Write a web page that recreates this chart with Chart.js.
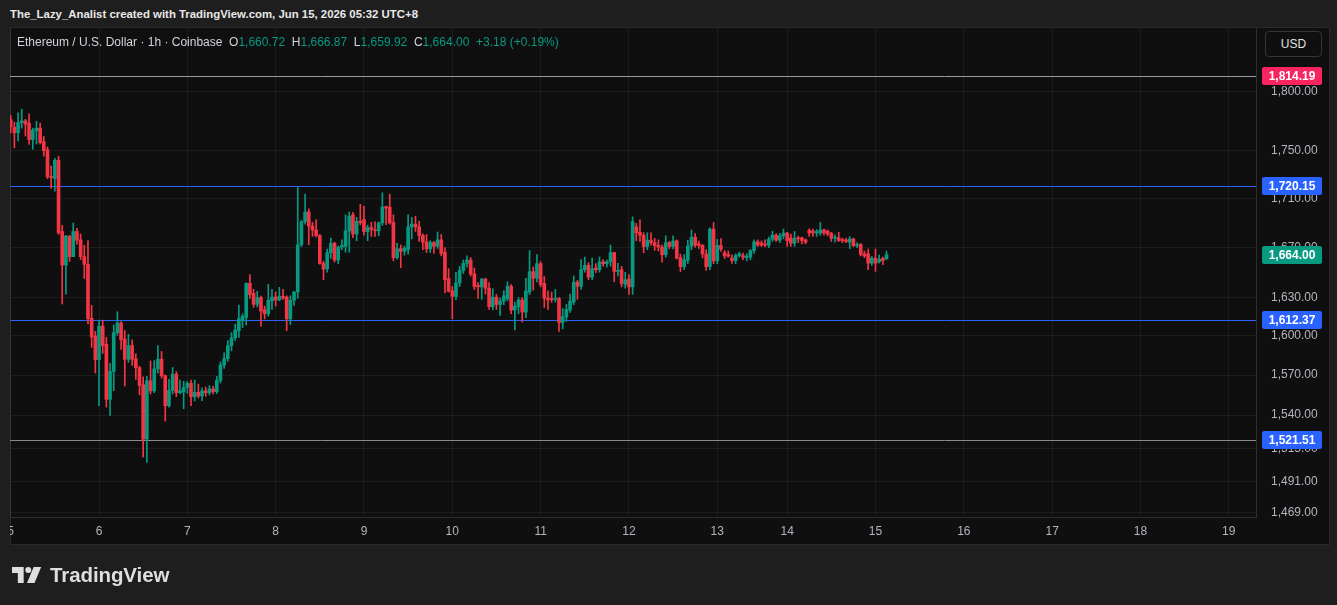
<!DOCTYPE html>
<html><head><meta charset="utf-8">
<script src="https://cdn.jsdelivr.net/npm/chart.js@4.4.1/dist/chart.umd.min.js"></script>
<style>
html,body{margin:0;padding:0;width:1337px;height:605px;background:#1e1e1e;overflow:hidden;font-family:"Liberation Sans",Arial,sans-serif}
#hdr{position:absolute;left:10px;top:8px;font-size:11.4px;color:#e8e8e8;font-weight:700;white-space:nowrap}
#pane{position:absolute;left:10px;top:27px;width:1320px;height:518px;background:#0f0f0f;box-sizing:border-box;border:1px solid #2a2a2a}
#cv{position:absolute;left:10px;top:0;z-index:1}
#legend{position:absolute;left:17px;top:35px;font-size:12px;color:#d1d4dc;white-space:nowrap;z-index:2}
#legend .v{color:#089981}
#usd{position:absolute;left:1265px;top:31px;width:57px;height:26px;border:1px solid #363636;border-radius:4px;color:#e0e0e0;font-size:12px;text-align:center;line-height:24px;box-sizing:border-box;z-index:2;background:#0f0f0f}
#logo{position:absolute;left:12px;top:563px;display:flex;align-items:center;z-index:2}
#logo span{font-size:20.5px;font-weight:700;color:#dedede;margin-left:8px;letter-spacing:-0.1px}
</style>
</head><body>
<div id="hdr">The_Lazy_Analist created with TradingView.com, Jun 15, 2026 05:32 UTC+8</div>
<div id="pane"></div>
<canvas id="cv" width="1327" height="605"></canvas>
<div id="legend">Ethereum / U.S. Dollar · 1h · Coinbase&nbsp; O<span class="v">1,660.72</span>&nbsp; H<span class="v">1,666.87</span>&nbsp; L<span class="v">1,659.92</span>&nbsp; C<span class="v">1,664.00</span>&nbsp; <span class="v">+3.18 (+0.19%)</span></div>
<div id="usd">USD</div>
<div id="logo"><svg width="30" height="16" viewBox="0 0 36 19"><path d="M0 0H14V19H7V7H0Z" fill="#dedede"/><circle cx="19.5" cy="3.6" r="3.6" fill="#dedede"/><path d="M26 0H35L27 19H18Z" fill="#dedede"/></svg><span>TradingView</span></div>
<script>
// hourly candles, Jun 5 00:00 onward (bar index = hour)
const opens = [1776.1,1769.5,1764.9,1773.5,1775.0,1773.1,1759.1,1766.6,1768.8,1757.4,1750.5,1728.0,1726.3,1741.6,1682.7,1655.6,1678.7,1662.4,1682.7,1675.9,1662.4,1656.3,1613.6,1600.0,1581.7,1607.5,1593.5,1551.7,1572.7,1602.5,1610.0,1597.5,1582.0,1592.5,1582.3,1575.6,1562.7,1522.1,1565.7,1558.1,1574.7,1582.1,1569.7,1546.9,1558.4,1570.7,1556.7,1557.2,1560.7,1563.7,1553.7,1557.0,1554.2,1558.1,1556.7,1559.5,1557.5,1566.0,1577.7,1582.5,1592.5,1598.5,1603.9,1611.9,1614.3,1641.1,1633.2,1624.6,1630.0,1620.3,1617.2,1627.3,1630.3,1628.0,1630.8,1630.3,1613.2,1627.7,1634.3,1672.0,1690.7,1698.7,1687.2,1683.9,1679.5,1657.0,1652.5,1665.5,1673.2,1659.7,1670.0,1670.7,1683.1,1696.3,1680.7,1691.0,1692.5,1682.7,1686.0,1684.0,1683.2,1689.7,1703.0,1702.7,1690.1,1661.6,1668.8,1666.7,1668.1,1686.5,1688.7,1686.5,1679.5,1674.3,1668.7,1673.8,1670.8,1675.9,1666.0,1644.8,1635.3,1630.8,1641.4,1651.4,1657.0,1659.7,1648.6,1639.5,1638.3,1644.5,1637.3,1622.7,1630.2,1624.5,1627.1,1629.0,1638.9,1620.1,1622.7,1628.0,1618.5,1634.3,1650.4,1645.1,1656.8,1641.1,1629.5,1628.8,1628.3,1629.1,1610.4,1614.6,1620.1,1626.3,1642.0,1638.8,1652.0,1655.5,1646.0,1653.3,1652.0,1658.2,1656.8,1658.2,1665.7,1650.6,1652.0,1640.3,1644.5,1638.3,1686.5,1682.1,1679.7,1670.5,1675.7,1673.7,1671.5,1670.1,1664.0,1673.7,1670.7,1675.1,1661.6,1654.4,1659.5,1671.0,1678.1,1672.7,1671.7,1664.5,1654.4,1684.7,1659.0,1671.4,1665.6,1664.0,1661.3,1659.3,1663.3,1663.3,1661.6,1662.0,1667.3,1674.3,1673.3,1672.5,1671.7,1676.5,1679.7,1675.7,1679.2,1681.5,1677.4,1673.3,1677.6,1677.6,1675.9,1683.7,1683.2,1681.7,1681.5,1684.0,1682.9,1681.2,1677.3,1677.7,1675.9,1675.9,1674.1,1676.7,1671.2,1672.2,1664.6,1664.7,1657.2,1661.2,1658.2,1661.0,1660.72];
const highs = [1779.7,1774.1,1781.9,1785.1,1776.4,1781.1,1768.8,1774.7,1773.1,1761.7,1752.9,1736.8,1743.3,1745.1,1687.7,1679.7,1679.7,1689.7,1685.3,1680.7,1671.5,1675.3,1623.7,1603.5,1612.2,1612.2,1598.8,1578.7,1608.5,1618.8,1611.0,1604.1,1601.3,1597.0,1586.2,1576.7,1568.7,1569.1,1580.7,1581.0,1592.5,1588.0,1570.1,1566.7,1575.7,1572.7,1566.2,1565.3,1565.3,1566.2,1566.2,1563.2,1560.3,1561.0,1562.0,1561.5,1569.0,1580.0,1587.0,1596.5,1602.5,1609.0,1624.0,1617.1,1641.6,1648.0,1636.4,1634.8,1631.0,1623.2,1640.3,1636.3,1634.3,1638.0,1636.3,1631.3,1631.3,1634.8,1718.9,1691.7,1713.4,1701.2,1690.2,1692.2,1680.3,1658.7,1668.5,1677.4,1674.1,1671.0,1675.9,1696.3,1698.5,1698.3,1694.3,1705.0,1703.4,1687.9,1690.3,1690.7,1690.5,1714.4,1703.6,1713.4,1696.3,1673.1,1671.8,1670.8,1696.3,1694.2,1695.1,1691.1,1680.9,1680.3,1675.3,1674.6,1682.3,1680.3,1669.7,1652.8,1638.6,1649.8,1654.7,1659.7,1663.0,1661.7,1653.3,1641.7,1645.0,1645.2,1641.7,1636.8,1632.3,1629.5,1635.3,1642.4,1640.2,1626.3,1629.9,1629.9,1645.1,1667.3,1654.2,1664.0,1658.5,1646.5,1635.1,1634.3,1636.3,1630.1,1621.3,1624.5,1632.7,1647.0,1643.5,1660.0,1662.0,1657.6,1661.3,1656.8,1662.2,1660.0,1659.7,1671.8,1666.0,1657.0,1654.7,1650.0,1648.0,1694.7,1689.3,1692.2,1681.7,1681.7,1681.7,1677.2,1675.9,1671.7,1679.2,1674.7,1679.2,1675.9,1664.4,1664.0,1675.7,1684.0,1681.1,1674.9,1672.0,1668.0,1685.7,1690.1,1676.4,1677.0,1667.3,1667.0,1663.9,1664.6,1666.0,1665.3,1664.8,1668.0,1675.9,1675.9,1675.1,1675.9,1678.2,1682.9,1681.1,1681.1,1684.8,1682.1,1680.7,1682.7,1679.0,1678.1,1676.7,1684.9,1684.7,1684.3,1690.1,1684.7,1684.0,1682.1,1680.1,1682.1,1677.3,1677.3,1678.7,1677.3,1673.7,1673.0,1667.0,1668.5,1662.6,1668.5,1663.7,1662.1,1666.87];
const lows = [1764.8,1752.1,1757.9,1768.8,1762.1,1755.1,1750.9,1755.4,1755.4,1745.1,1726.2,1718.2,1715.9,1680.4,1624.8,1632.6,1658.6,1662.4,1672.5,1660.0,1645.0,1609.3,1591.1,1571.6,1546.9,1586.5,1545.9,1539.7,1558.2,1600.5,1589.5,1561.7,1579.7,1577.4,1566.7,1555.2,1509.1,1505.1,1555.7,1556.7,1571.7,1567.7,1535.5,1545.9,1555.7,1553.7,1555.7,1544.7,1556.2,1546.9,1550.5,1552.7,1550.7,1554.0,1555.0,1555.8,1556.0,1564.0,1575.0,1580.5,1588.5,1596.5,1598.8,1606.5,1608.5,1629.3,1622.3,1622.5,1607.5,1613.2,1615.3,1620.6,1623.2,1627.3,1628.5,1604.0,1608.8,1623.7,1629.3,1670.5,1688.7,1672.0,1678.7,1678.4,1656.3,1644.0,1650.0,1661.0,1658.0,1656.8,1668.0,1666.0,1666.0,1677.7,1675.3,1688.3,1679.7,1675.3,1678.7,1678.7,1679.2,1687.7,1688.3,1688.7,1659.0,1660.3,1653.5,1663.6,1664.4,1676.7,1682.7,1674.7,1668.1,1665.7,1665.7,1665.1,1669.0,1663.0,1633.5,1634.3,1613.2,1628.3,1638.6,1649.0,1654.0,1646.8,1636.3,1629.2,1628.5,1632.6,1620.6,1620.3,1620.6,1615.9,1624.3,1627.3,1617.2,1604.7,1617.2,1610.7,1614.1,1632.3,1635.8,1642.3,1638.3,1622.2,1620.6,1626.3,1626.3,1603.5,1605.5,1611.3,1618.3,1624.3,1628.6,1636.3,1650.0,1644.0,1644.0,1649.7,1650.0,1654.7,1654.0,1654.7,1642.4,1647.0,1638.3,1637.3,1632.3,1632.3,1675.3,1674.7,1665.5,1668.0,1671.7,1667.6,1667.0,1658.0,1662.0,1668.7,1668.7,1660.5,1650.5,1652.0,1657.0,1668.0,1670.0,1669.0,1661.4,1651.4,1652.0,1656.8,1656.8,1666.6,1661.0,1662.0,1657.0,1656.8,1662.0,1660.0,1659.0,1660.0,1665.0,1670.7,1670.7,1670.5,1669.7,1674.7,1674.6,1673.7,1676.7,1670.7,1670.7,1670.7,1673.7,1672.7,1672.7,1678.8,1678.7,1678.7,1679.7,1679.7,1679.3,1674.7,1674.1,1674.7,1673.7,1673.7,1668.9,1670.5,1669.7,1663.0,1661.6,1652.0,1655.5,1650.6,1657.3,1656.0,1659.92];
const closes = [1770.1,1764.9,1773.5,1775.0,1772.3,1759.1,1767.1,1768.8,1756.7,1749.7,1727.8,1727.2,1741.6,1681.7,1655.6,1679.0,1662.4,1682.7,1675.7,1662.4,1656.3,1613.3,1599.2,1581.7,1607.5,1592.5,1551.7,1572.7,1602.5,1610.0,1597.0,1582.0,1592.5,1582.0,1575.6,1562.3,1522.1,1565.7,1558.1,1574.7,1582.1,1569.5,1546.9,1558.4,1570.7,1556.7,1558.1,1560.7,1563.7,1553.7,1557.0,1554.2,1558.1,1556.7,1559.5,1557.5,1566.0,1577.7,1582.5,1592.5,1598.5,1604.5,1613.3,1615.3,1641.1,1632.3,1624.6,1630.0,1619.3,1617.2,1627.7,1630.3,1628.0,1630.8,1629.5,1613.2,1627.7,1634.3,1672.0,1690.7,1698.7,1687.2,1683.9,1679.5,1657.0,1652.5,1665.5,1673.2,1659.7,1670.0,1671.4,1683.3,1695.3,1680.7,1691.0,1689.9,1682.7,1686.0,1684.3,1683.4,1689.7,1702.7,1701.9,1689.7,1661.6,1668.8,1666.7,1669.2,1686.5,1688.7,1686.5,1679.5,1674.1,1668.7,1673.8,1670.8,1675.9,1665.0,1644.0,1634.8,1630.8,1641.4,1651.4,1657.0,1659.7,1648.5,1638.6,1638.4,1644.5,1637.3,1622.7,1630.2,1624.5,1627.1,1631.3,1638.9,1620.1,1623.2,1628.0,1618.5,1635.1,1650.4,1645.1,1656.8,1640.3,1629.5,1628.0,1628.3,1629.1,1610.4,1615.0,1620.6,1627.0,1642.0,1638.8,1652.0,1655.5,1646.0,1652.6,1652.0,1658.2,1656.8,1658.2,1665.7,1650.6,1651.4,1641.1,1644.0,1638.3,1690.7,1681.6,1679.7,1670.5,1675.7,1673.7,1671.3,1670.1,1664.0,1673.7,1670.7,1675.1,1661.2,1654.4,1660.0,1671.0,1678.1,1671.7,1671.4,1664.5,1654.4,1684.7,1659.0,1671.4,1668.5,1663.0,1662.8,1659.3,1663.3,1664.6,1662.0,1662.6,1667.3,1674.3,1671.7,1671.7,1671.7,1676.5,1679.7,1675.7,1679.2,1681.5,1675.3,1673.3,1677.3,1676.8,1675.4,1674.1,1681.5,1681.5,1682.7,1684.0,1681.5,1680.7,1677.3,1678.1,1675.4,1675.4,1674.7,1676.7,1671.2,1672.0,1664.2,1663.0,1657.2,1661.2,1657.2,1660.3,1659.3,1664.00];
// time axis: bar index of each day start and its label
const dayTickIndex = [0,24,48,72,96,120,144,168,192,211,235,259,283,307,331];
const dayLabels = ['5','6','7','8','9','10','11','12','13','14','15','16','17','18','19'];
// price axis ticks (log scale)
const priceTicks = [1469,1491,1515,1540,1570,1600,1630,1670,1710,1750,1800];
// drawn horizontal levels
const levelValues = [1814.19,1720.15,1612.37,1521.51];
const lastPrice = 1664.00;

const UP = '#089981', DOWN = '#f23645';
const levelLine = ['#9a9a9a','#2962ff','#2962ff','#8a8a8a'];
const levelTag = ['#f7245f','#2962ff','#2962ff','#2962ff'];
const FONT = '"Liberation Sans", Arial, sans-serif';
const fmt = v => v.toLocaleString('en-US',{minimumFractionDigits:2,maximumFractionDigits:2});

const idx = opens.map((_, i) => i);
const colors = idx.map(i => closes[i] >= opens[i] ? UP : DOWN);
const wickData = idx.map(i => ({x: i, y: [lows[i], highs[i]]}));
const bodyData = idx.map(i => ({x: i, y: [opens[i], closes[i]]}));

const levelPlugin = {
  id: 'levels',
  beforeDatasetsDraw(chart) {
    const {ctx, chartArea: a, scales: {y}} = chart;
    ctx.save();
    levelValues.forEach((v, k) => {
      const py = Math.round(y.getPixelForValue(v)) + 0.5;
      ctx.strokeStyle = levelLine[k];
      ctx.lineWidth = 1;
      ctx.beginPath(); ctx.moveTo(a.left, py); ctx.lineTo(a.right, py); ctx.stroke();
    });
    ctx.restore();
  },
  afterDraw(chart) {
    const {ctx, chartArea: a, scales: {y}} = chart;
    ctx.save();
    const tag = (v, col) => {
      const py = Math.round(y.getPixelForValue(v));
      const x0 = a.right + 6, w = 60, h = 18;
      ctx.fillStyle = col;
      ctx.beginPath(); ctx.roundRect(x0, py - h/2, w, h, 2); ctx.fill();
      ctx.fillStyle = '#ffffff';
      ctx.font = 'bold 12px ' + FONT;
      ctx.textAlign = 'center'; ctx.textBaseline = 'middle';
      ctx.fillText(fmt(v), x0 + w/2, py + 1);
    };
    levelValues.forEach((v, k) => tag(v, levelTag[k]));
    tag(lastPrice, UP);
    ctx.restore();
  }
};

new Chart(document.getElementById('cv'), {
  type: 'bar',
  data: {
    datasets: [
      {data: wickData, backgroundColor: colors, barThickness: 1, grouped: false, borderWidth: 0, borderSkipped: false},
      {data: bodyData, backgroundColor: colors, barThickness: 3, grouped: false, borderWidth: 0, borderSkipped: false, minBarLength: 1}
    ]
  },
  options: {
    responsive: false, animation: false, devicePixelRatio: 1,
    layout: {padding: {left: 0, top: 28, right: 7, bottom: 60}},
    plugins: {legend: {display: false}, tooltip: {enabled: false}},
    scales: {
      x: {
        type: 'linear', min: -0.19, max: 338.4, offset: false,
        afterFit: s => { s.height = 28; s.paddingLeft = 0; s.paddingRight = 0; },
        afterBuildTicks: s => { s.ticks = dayTickIndex.map(v => ({value: v})); },
        ticks: {autoSkip: false, maxRotation: 0, color: '#b2b5be', padding: 7, font: {size: 12, family: FONT},
          callback: v => dayLabels[dayTickIndex.indexOf(v)]},
        grid: {color: 'rgba(242,242,242,0.06)', drawTicks: false, offset: false},
        border: {display: true, color: '#2e2e2e'}
      },
      y: {
        type: 'logarithmic', position: 'right', min: 1466.0, max: 1856.5,
        afterFit: s => { s.width = 74; s.paddingTop = 0; s.paddingBottom = 0; },
        afterBuildTicks: s => { s.ticks = priceTicks.map(v => ({value: v})); },
        ticks: {autoSkip: false, color: '#b2b5be', padding: 15, font: {size: 12, family: FONT}, callback: v => fmt(v)},
        grid: {color: 'rgba(242,242,242,0.06)', drawTicks: false},
        border: {display: true, color: '#2e2e2e'}
      }
    }
  },
  plugins: [levelPlugin]
});
</script>
</body></html>
